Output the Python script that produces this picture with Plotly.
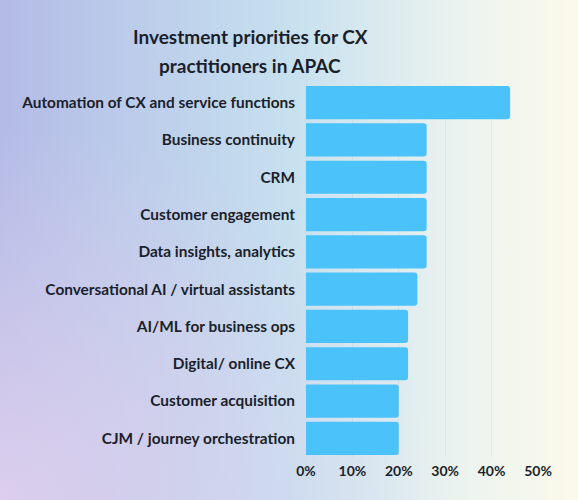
import base64

import plotly.graph_objects as go

# data (share of respondents)
priorities = [
    "Automation of CX and service functions",
    "Business continuity",
    "CRM",
    "Customer engagement",
    "Data insights, analytics",
    "Conversational AI / virtual assistants",
    "AI/ML for business ops",
    "Digital/ online CX",
    "Customer acquisition",
    "CJM / journey orchestration",
]
shares = [0.44, 0.26, 0.26, 0.26, 0.26, 0.24, 0.22, 0.22, 0.20, 0.20]
tick_vals = [0, 0.1, 0.2, 0.3, 0.4, 0.5]
tick_text = ["0%", "10%", "20%", "30%", "40%", "50%"]
title_lines = ["Investment priorities for CX", "practitioners in APAC"]

W, H = 578, 500
ML, MR, MT, MB = 306, 40, 84, 43
FONT = "Lato"
INK = "#1b1f2b"

# soft background gradient (purple -> light blue -> cream)
svg = f"""<svg xmlns='http://www.w3.org/2000/svg' width='{W}' height='{H}'>
<defs>
<linearGradient id='g' x1='0' y1='0' x2='1' y2='0'>
<stop offset='0' stop-color='#b3bbe6'/>
<stop offset='0.5' stop-color='#c6e0ef'/>
<stop offset='0.8' stop-color='#ecf3ef'/>
<stop offset='1' stop-color='#fbfaea'/>
</linearGradient>
<radialGradient id='p' cx='0' cy='1' r='0.75'>
<stop offset='0' stop-color='#e0d0ee' stop-opacity='0.9'/>
<stop offset='1' stop-color='#e0d0ee' stop-opacity='0'/>
</radialGradient>
</defs>
<rect width='{W}' height='{H}' fill='url(#g)'/>
<rect width='{W}' height='{H}' fill='url(#p)'/>
</svg>"""
bg_src = "data:image/svg+xml;base64," + base64.b64encode(svg.encode()).decode()

pw = W - ML - MR
ph = H - MT - MB

fig = go.Figure(
    go.Bar(
        x=shares,
        y=priorities,
        orientation="h",
        marker=dict(color="#4cc2fb", line=dict(width=0)),
        hovertemplate="%{y}: %{x:.0%}<extra></extra>",
    )
)

fig.add_layout_image(
    dict(
        source=bg_src,
        xref="paper", yref="paper",
        x=-ML / pw, y=1 + MT / ph,
        sizex=W / pw, sizey=H / ph,
        xanchor="left", yanchor="top",
        sizing="stretch",
        layer="below",
    )
)

# two title lines, placed separately to get the wider line spacing
for line, ypix in zip(title_lines, [37, 66]):
    fig.add_annotation(
        text=line,
        xref="paper", yref="paper",
        x=(250 - ML) / pw, y=1 + (MT - ypix) / ph,
        xanchor="center", yanchor="middle",
        showarrow=False,
        font=dict(family=FONT, size=19, weight=700, color=INK),
    )

fig.update_layout(
    width=W,
    height=H,
    margin=dict(l=ML, r=MR, t=MT, b=MB),
    paper_bgcolor="rgba(0,0,0,0)",
    plot_bgcolor="rgba(0,0,0,0)",
    bargap=0.11,
    barcornerradius=3,
    showlegend=False,
    font=dict(family=FONT, color=INK),
)

fig.update_xaxes(
    range=[0, 0.5],
    tickvals=tick_vals,
    ticktext=tick_text,
    showgrid=True,
    gridcolor="rgba(120,130,140,0.1)",
    gridwidth=1,
    zeroline=False,
    showline=False,
    tickfont=dict(family=FONT, size=14, weight=700, color=INK),
    ticklabelstandoff=4,
    fixedrange=True,
)
fig.update_yaxes(
    autorange="reversed",
    showgrid=False,
    zeroline=False,
    showline=False,
    tickfont=dict(family=FONT, size=15.4, weight=700, color=INK),
    ticklabelstandoff=10,
    fixedrange=True,
)

fig.write_html(
    "out.html",
    config={"displayModeBar": False},
    post_script="document.body.style.margin='0';",
)
